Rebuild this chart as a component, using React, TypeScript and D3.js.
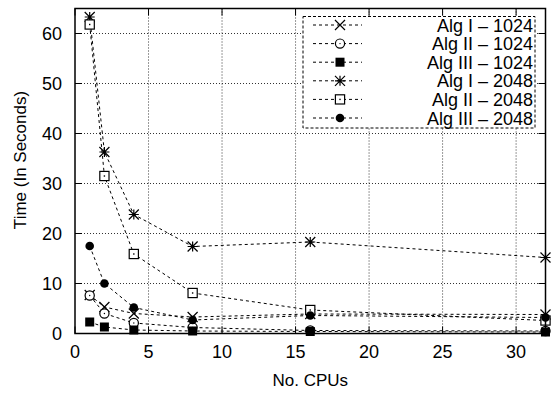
import React from 'react';
import * as d3 from 'd3';

const cpus = [1, 2, 4, 8, 16, 32];

const algI1024 = [7.7, 5.3, 4.0, 3.3, 3.9, 3.8];
const algII1024 = [7.6, 4.0, 2.1, 1.2, 0.6, 0.5];
const algIII1024 = [2.3, 1.3, 0.7, 0.5, 0.4, 0.3];
const algI2048 = [63.3, 36.3, 23.8, 17.4, 18.3, 15.2];
const algII2048 = [61.8, 31.5, 15.9, 8.1, 4.7, 2.6];
const algIII2048 = [17.5, 10.0, 5.2, 2.7, 3.6, 3.2];

const seriesNames = [
  'Alg I – 1024',
  'Alg II – 1024',
  'Alg III – 1024',
  'Alg I – 2048',
  'Alg II – 2048',
  'Alg III – 2048',
];
const seriesValues = [algI1024, algII1024, algIII1024, algI2048, algII2048, algIII2048];
const markerTypes = ['cross', 'circle', 'fsquare', 'star', 'square', 'fcircle'];

const xTicks = [0, 5, 10, 15, 20, 25, 30];
const yTicks = [0, 10, 20, 30, 40, 50, 60];

const W = 552;
const H = 394;
const left = 75;
const right = 545.5;
const top = 8.5;
const bottom = 333.5;
const font = 'Liberation Sans, Arial, Helvetica, sans-serif';

function Marker({ type, x, y }: { type: string; x: number; y: number }) {
  const s = 5;
  switch (type) {
    case 'cross':
      return (
        <path
          d={`M${x - s},${y - s}L${x + s},${y + s}M${x - s},${y + s}L${x + s},${y - s}`}
          stroke="#000"
          strokeWidth={1.2}
          fill="none"
        />
      );
    case 'star':
      return (
        <path
          d={`M${x - s},${y - s}L${x + s},${y + s}M${x - s},${y + s}L${x + s},${y - s}M${x - s},${y}L${x + s},${y}M${x},${y - s}L${x},${y + s}`}
          stroke="#000"
          strokeWidth={1.2}
          fill="none"
        />
      );
    case 'circle':
      return (
        <g>
          <circle cx={x} cy={y} r={4.6} fill="#fff" stroke="#000" strokeWidth={1.2} />
          <circle cx={x} cy={y} r={0.7} fill="#000" />
        </g>
      );
    case 'fcircle':
      return <circle cx={x} cy={y} r={4.3} fill="#000" />;
    case 'square':
      return (
        <g>
          <rect x={x - 4.6} y={y - 4.6} width={9.2} height={9.2} fill="#fff" stroke="#000" strokeWidth={1.2} />
          <rect x={x - 0.7} y={y - 0.7} width={1.4} height={1.4} fill="#000" />
        </g>
      );
    case 'fsquare':
      return <rect x={x - 4.5} y={y - 4.5} width={9} height={9} fill="#000" />;
    default:
      return null;
  }
}

export default function App() {
  const x = d3.scaleLinear().domain([0, 32]).range([left, right]);
  const y = d3.scaleLinear().domain([0, 65]).range([bottom, top]);
  const line = d3
    .line<number>()
    .x((_, i) => x(cpus[i]))
    .y(d => y(d));

  const tickLen = 7;
  const legendRowY = (i: number) => 25 + i * 18.6;

  return (
    <svg
      width={W}
      height={H}
      style={{ position: 'absolute', left: 0, top: 0, background: '#fff' }}
      fontFamily={font}
    >
      <rect width={W} height={H} fill="#fff" />
      {/* grid */}
      {xTicks
        .filter(t => t > 0)
        .map(t => (
          <line key={'gx' + t} x1={x(t)} x2={x(t)} y1={top} y2={bottom} stroke="#333" strokeWidth={1} strokeDasharray="1,2" />
        ))}
      {yTicks
        .filter(t => t > 0)
        .map(t => (
          <line key={'gy' + t} x1={left} x2={right} y1={y(t)} y2={y(t)} stroke="#333" strokeWidth={1} strokeDasharray="1,2" />
        ))}
      {/* ticks */}
      {xTicks.map(t => (
        <g key={'tx' + t}>
          <line x1={x(t)} x2={x(t)} y1={bottom} y2={bottom - tickLen} stroke="#000" />
          <line x1={x(t)} x2={x(t)} y1={top} y2={top + tickLen} stroke="#000" />
          <text x={x(t)} y={bottom + 24} textAnchor="middle" fontSize={18} fill="#000">
            {t}
          </text>
        </g>
      ))}
      {yTicks.map(t => (
        <g key={'ty' + t}>
          <line x1={left} x2={left + tickLen} y1={y(t)} y2={y(t)} stroke="#000" />
          <line x1={right} x2={right - tickLen} y1={y(t)} y2={y(t)} stroke="#000" />
          <text x={62} y={y(t) + 6.5} textAnchor="end" fontSize={18} fill="#000">
            {t}
          </text>
        </g>
      ))}
      {/* series */}
      {seriesValues.map((vals, si) => (
        <path key={'l' + si} d={line(vals) ?? ''} fill="none" stroke="#000" strokeWidth={1} strokeDasharray="3,3" />
      ))}
      {seriesValues.map((vals, si) =>
        vals.map((v, i) => <Marker key={`m${si}-${i}`} type={markerTypes[si]} x={x(cpus[i])} y={y(v)} />)
      )}
      {/* border */}
      <rect x={left} y={top} width={right - left} height={bottom - top} fill="none" stroke="#000" strokeWidth={1.5} />
      {/* legend */}
      <rect x={303} y={16.5} width={232} height={111.5} fill="#fff" stroke="#000" strokeWidth={1} strokeDasharray="3,2" />
      {seriesNames.map((name, i) => (
        <g key={'lg' + i}>
          <line x1={313} x2={362} y1={legendRowY(i)} y2={legendRowY(i)} stroke="#000" strokeDasharray="3,3" />
          <Marker type={markerTypes[i]} x={340} y={legendRowY(i)} />
          <text x={533} y={legendRowY(i) + 6.5} textAnchor="end" fontSize={18} fill="#000">
            {name}
          </text>
        </g>
      ))}
      {/* axis labels */}
      <text x={(left + right) / 2} y={386} textAnchor="middle" fontSize={17} fill="#000">
        No. CPUs
      </text>
      <text
        transform={`translate(26,160) rotate(-90)`}
        textAnchor="middle"
        fontSize={17}
        fill="#000"
      >
        Time (In Seconds)
      </text>
    </svg>
  );
}
